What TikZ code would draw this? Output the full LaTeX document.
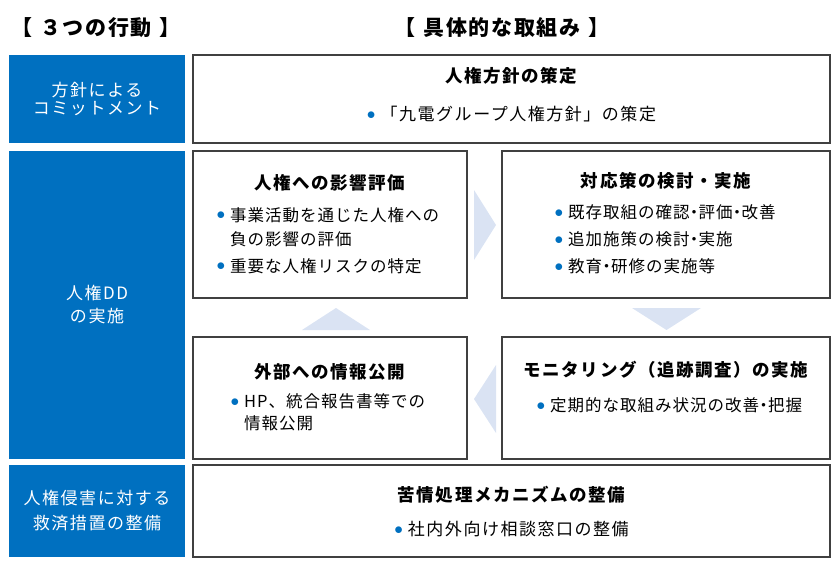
\documentclass[tikz,border=0pt]{standalone}
\usepackage{fontspec}
\setmainfont{Noto Sans CJK JP}
\usepackage{xcolor}
\definecolor{kblue}{HTML}{0070C0}
\definecolor{pale}{HTML}{DAE3F3}
\definecolor{frame}{HTML}{404040}
\newcommand{\bul}{\raisebox{1.5pt}{\textcolor{kblue}{$\bullet$}}\hspace{5pt}}
\newcommand{\nobul}{\hphantom{\bul}}
\newcommand{\dt}{\makebox[9pt]{・}}

\begin{document}
\begin{tikzpicture}[x=1pt, y=-1pt,
  every node/.style={inner sep=0pt},
  action/.style={fill=kblue, text=white, minimum width=176pt, align=center},
  task/.style={draw=frame, line width=1.2pt, fill=white},
  head/.style={font=\bfseries\fontsize{21}{24}\selectfont\addfontfeatures{LetterSpace=8}},
  ttl/.style={font=\bfseries\fontsize{17.5}{20}\selectfont\addfontfeatures{LetterSpace=9}},
  items/.style={align=left, font=\fontsize{16.5}{27}\selectfont\addfontfeatures{LetterSpace=6}},
  wide/.style={align=left, font=\fontsize{17}{27}\selectfont\addfontfeatures{LetterSpace=9}},
  flow/.style={fill=pale}]
  \useasboundingbox (0,0) rectangle (840,570);
  % Headings
  \node[head] (headact) at (96,28) {【\hspace{8pt}３つの行動\hspace{8pt}】};
  \node[head] (headtask) at (502,28) {【\hspace{8pt}具体的な取組み\hspace{8pt}】};
  % Three actions (left column)
  \node[action, minimum height=88pt, font=\fontsize{17}{18}\selectfont\addfontfeatures{LetterSpace=9}] (policy) at (97,99) {方針による\\コミットメント};
  \node[action, minimum height=308pt, font=\fontsize{17}{23}\selectfont\addfontfeatures{LetterSpace=9}] (dd) at (97,305) {人権DD\\の実施};
  \node[action, minimum height=92pt, font=\fontsize{17}{25}\selectfont\addfontfeatures{LetterSpace=9}] (remedy) at (97,511) {人権侵害に対する\\救済措置の整備};
  % Concrete tasks
  \node[task, minimum width=637pt, minimum height=88pt] (top) at (511.5,99) {};
  \node[task, minimum width=274pt, minimum height=147pt] (impact) at (330,224.5) {};
  \node[task, minimum width=328pt, minimum height=147pt] (measure) at (666,224.5) {};
  \node[task, minimum width=274pt, minimum height=122pt] (disclose) at (330,398) {};
  \node[task, minimum width=328pt, minimum height=122pt] (monitor) at (666,398) {};
  \node[task, minimum width=637pt, minimum height=92pt] (grievance) at (511.5,511) {};
  % Cycle triangles between the DD boxes
  \fill[flow] (474,190) -- (496,225) -- (474,260) -- cycle;
  \fill[flow] (632,308) -- (701,308) -- (666.5,330) -- cycle;
  \fill[flow] (496,365) -- (474,399) -- (496,433) -- cycle;
  \fill[flow] (302,330) -- (336,308) -- (370,330) -- cycle;
  % Titles and items
  \node[ttl] (toptitle) at ([yshift=-21pt]top.north) {人権方針の策定};
  \node[wide] (topitem) at ([yshift=-60pt]top.north) {\bul「九電グループ人権方針」の策定};
  \node[ttl] (impacttitle) at ([yshift=-32pt]impact.north) {人権への影響評価};
  \node[items, anchor=west] (impactitem) at ([xshift=24pt, yshift=-90pt]impact.north west) {\bul 事業活動を通じた人権への\\[-3pt]\nobul 負の影響の評価\\\bul 重要な人権リスクの特定};
  \node[ttl] (measuretitle) at ([yshift=-30pt]measure.north) {対応策の検討・実施};
  \node[items, anchor=west] (measureitem) at ([xshift=53pt, yshift=-89pt]measure.north west) {\bul 既存取組の確認\dt 評価\dt 改善\\\bul 追加施策の検討\dt 実施\\\bul 教育\dt 研修の実施等};
  \node[ttl] (monitortitle) at ([yshift=-33pt]monitor.north) {モニタリング（追跡調査）の実施};
  \node[items, anchor=west] (monitoritem) at ([xshift=35pt, yshift=-69pt]monitor.north west) {\bul 定期的な取組み状況の改善\dt 把握};
  \node[ttl] (disclosetitle) at ([yshift=-35pt]disclose.north) {外部への情報公開};
  \node[items, anchor=west] (discloseitem) at ([xshift=38pt, yshift=-76pt]disclose.north west) {\bul HP、統合報告書等での\\[-5pt]\nobul 情報公開};
  \node[ttl] (grievancetitle) at ([yshift=-30pt]grievance.north) {苦情処理メカニズムの整備};
  \node[wide] (grievanceitem) at ([yshift=-65pt]grievance.north) {\bul 社内外向け相談窓口の整備};
\end{tikzpicture}
\end{document}
